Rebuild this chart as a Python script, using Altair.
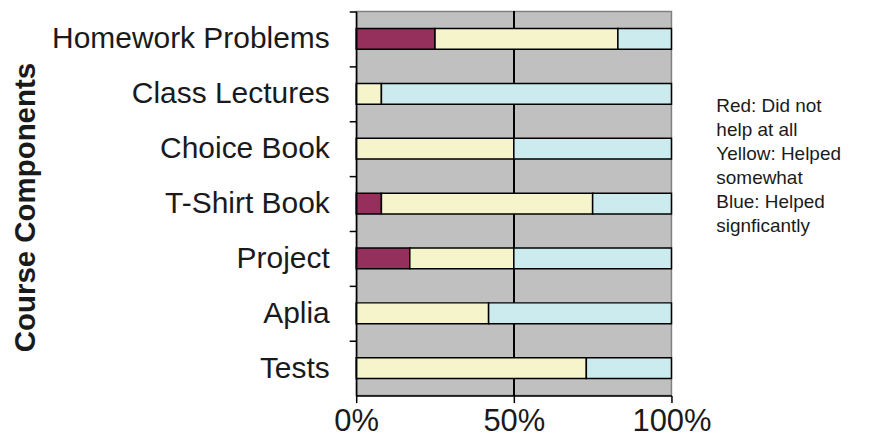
import altair as alt
import pandas as pd

categories = ["Homework Problems", "Class Lectures", "Choice Book", "T-Shirt Book",
              "Project", "Aplia", "Tests"]
red = [25, 0, 0, 8, 17, 0, 0]
yellow = [58, 8, 50, 67, 33, 42, 73]
blue = [17, 92, 50, 25, 50, 58, 27]
levels = ["Did not help at all", "Helped somewhat", "Helped significantly"]
colors = ["#952F5C", "#F6F4CB", "#CCEBEE"]
legend_lines = ["Red: Did not", "help at all", "Yellow: Helped", "somewhat",
                "Blue: Helped", "signficantly"]

rows = []
for i, c in enumerate(categories):
    for j, (lvl, vals) in enumerate(zip(levels, [red, yellow, blue])):
        if vals[i] > 0:
            rows.append({"component": c, "level": lvl, "order": j, "value": vals[i]})
df = pd.DataFrame(rows)

FONT = "Liberation Sans"

bars = alt.Chart(df).mark_bar(stroke="black", strokeWidth=1.5).encode(
    x=alt.X("value:Q", stack="normalize",
            scale=alt.Scale(domain=[0, 1], nice=False),
            axis=alt.Axis(values=[0, 0.5, 1], format=".0%", title=None, grid=False,
                          labelFontSize=31, labelPadding=4, labelFont=FONT,
                          labelFlush=False, zindex=1,
                          labelColor="#1a1a1a", tickSize=7, tickWidth=1.5,
                          tickColor="black", domainColor="black", domainWidth=1.5)),
    y=alt.Y("component:N", sort=categories, title="Course Components",
            scale=alt.Scale(paddingInner=0.62, paddingOuter=0.31),
            axis=alt.Axis(tickBand="center", tickOffset=-27.5, labelOffset=27.5,
                          labelFontSize=30,
                          labelFont=FONT, labelLimit=0, zindex=1,
                          labelColor="#1a1a1a", labelPadding=20, tickSize=7,
                          tickWidth=1.5, tickColor="black", domainColor="black",
                          domainWidth=1.5, titleFontSize=29.5, titleFont=FONT,
                          titleFontWeight="bold", titleColor="#1a1a1a",
                          titleX=-331, titleY=196, titleBaseline="middle",
                          titleAlign="center")),
    color=alt.Color("level:N", scale=alt.Scale(domain=levels, range=colors), legend=None),
    order=alt.Order("order:Q"),
)

rule = alt.Chart(df).mark_rule(color="black", strokeWidth=1.5).encode(x=alt.datum(0.5))

note = alt.Chart(pd.DataFrame({"t": ["\n".join(legend_lines)]})).mark_text(
    align="left", baseline="alphabetic", fontSize=19, lineHeight=24, font=FONT,
    color="#1a1a1a", lineBreak="\n"
).encode(x=alt.value(361), y=alt.value(101), text="t:N")

chart = alt.layer(rule, bars, note).properties(
    width=316, height=385,
    autosize=alt.AutoSizeParams(type="none"),
    padding={"left": 349, "top": 3, "right": 200, "bottom": 50},
).configure_view(fill="#C0C0C0", stroke="#808080", strokeWidth=1.5)

chart.save("out.html", embed_options={"renderer": "svg", "actions": False})
